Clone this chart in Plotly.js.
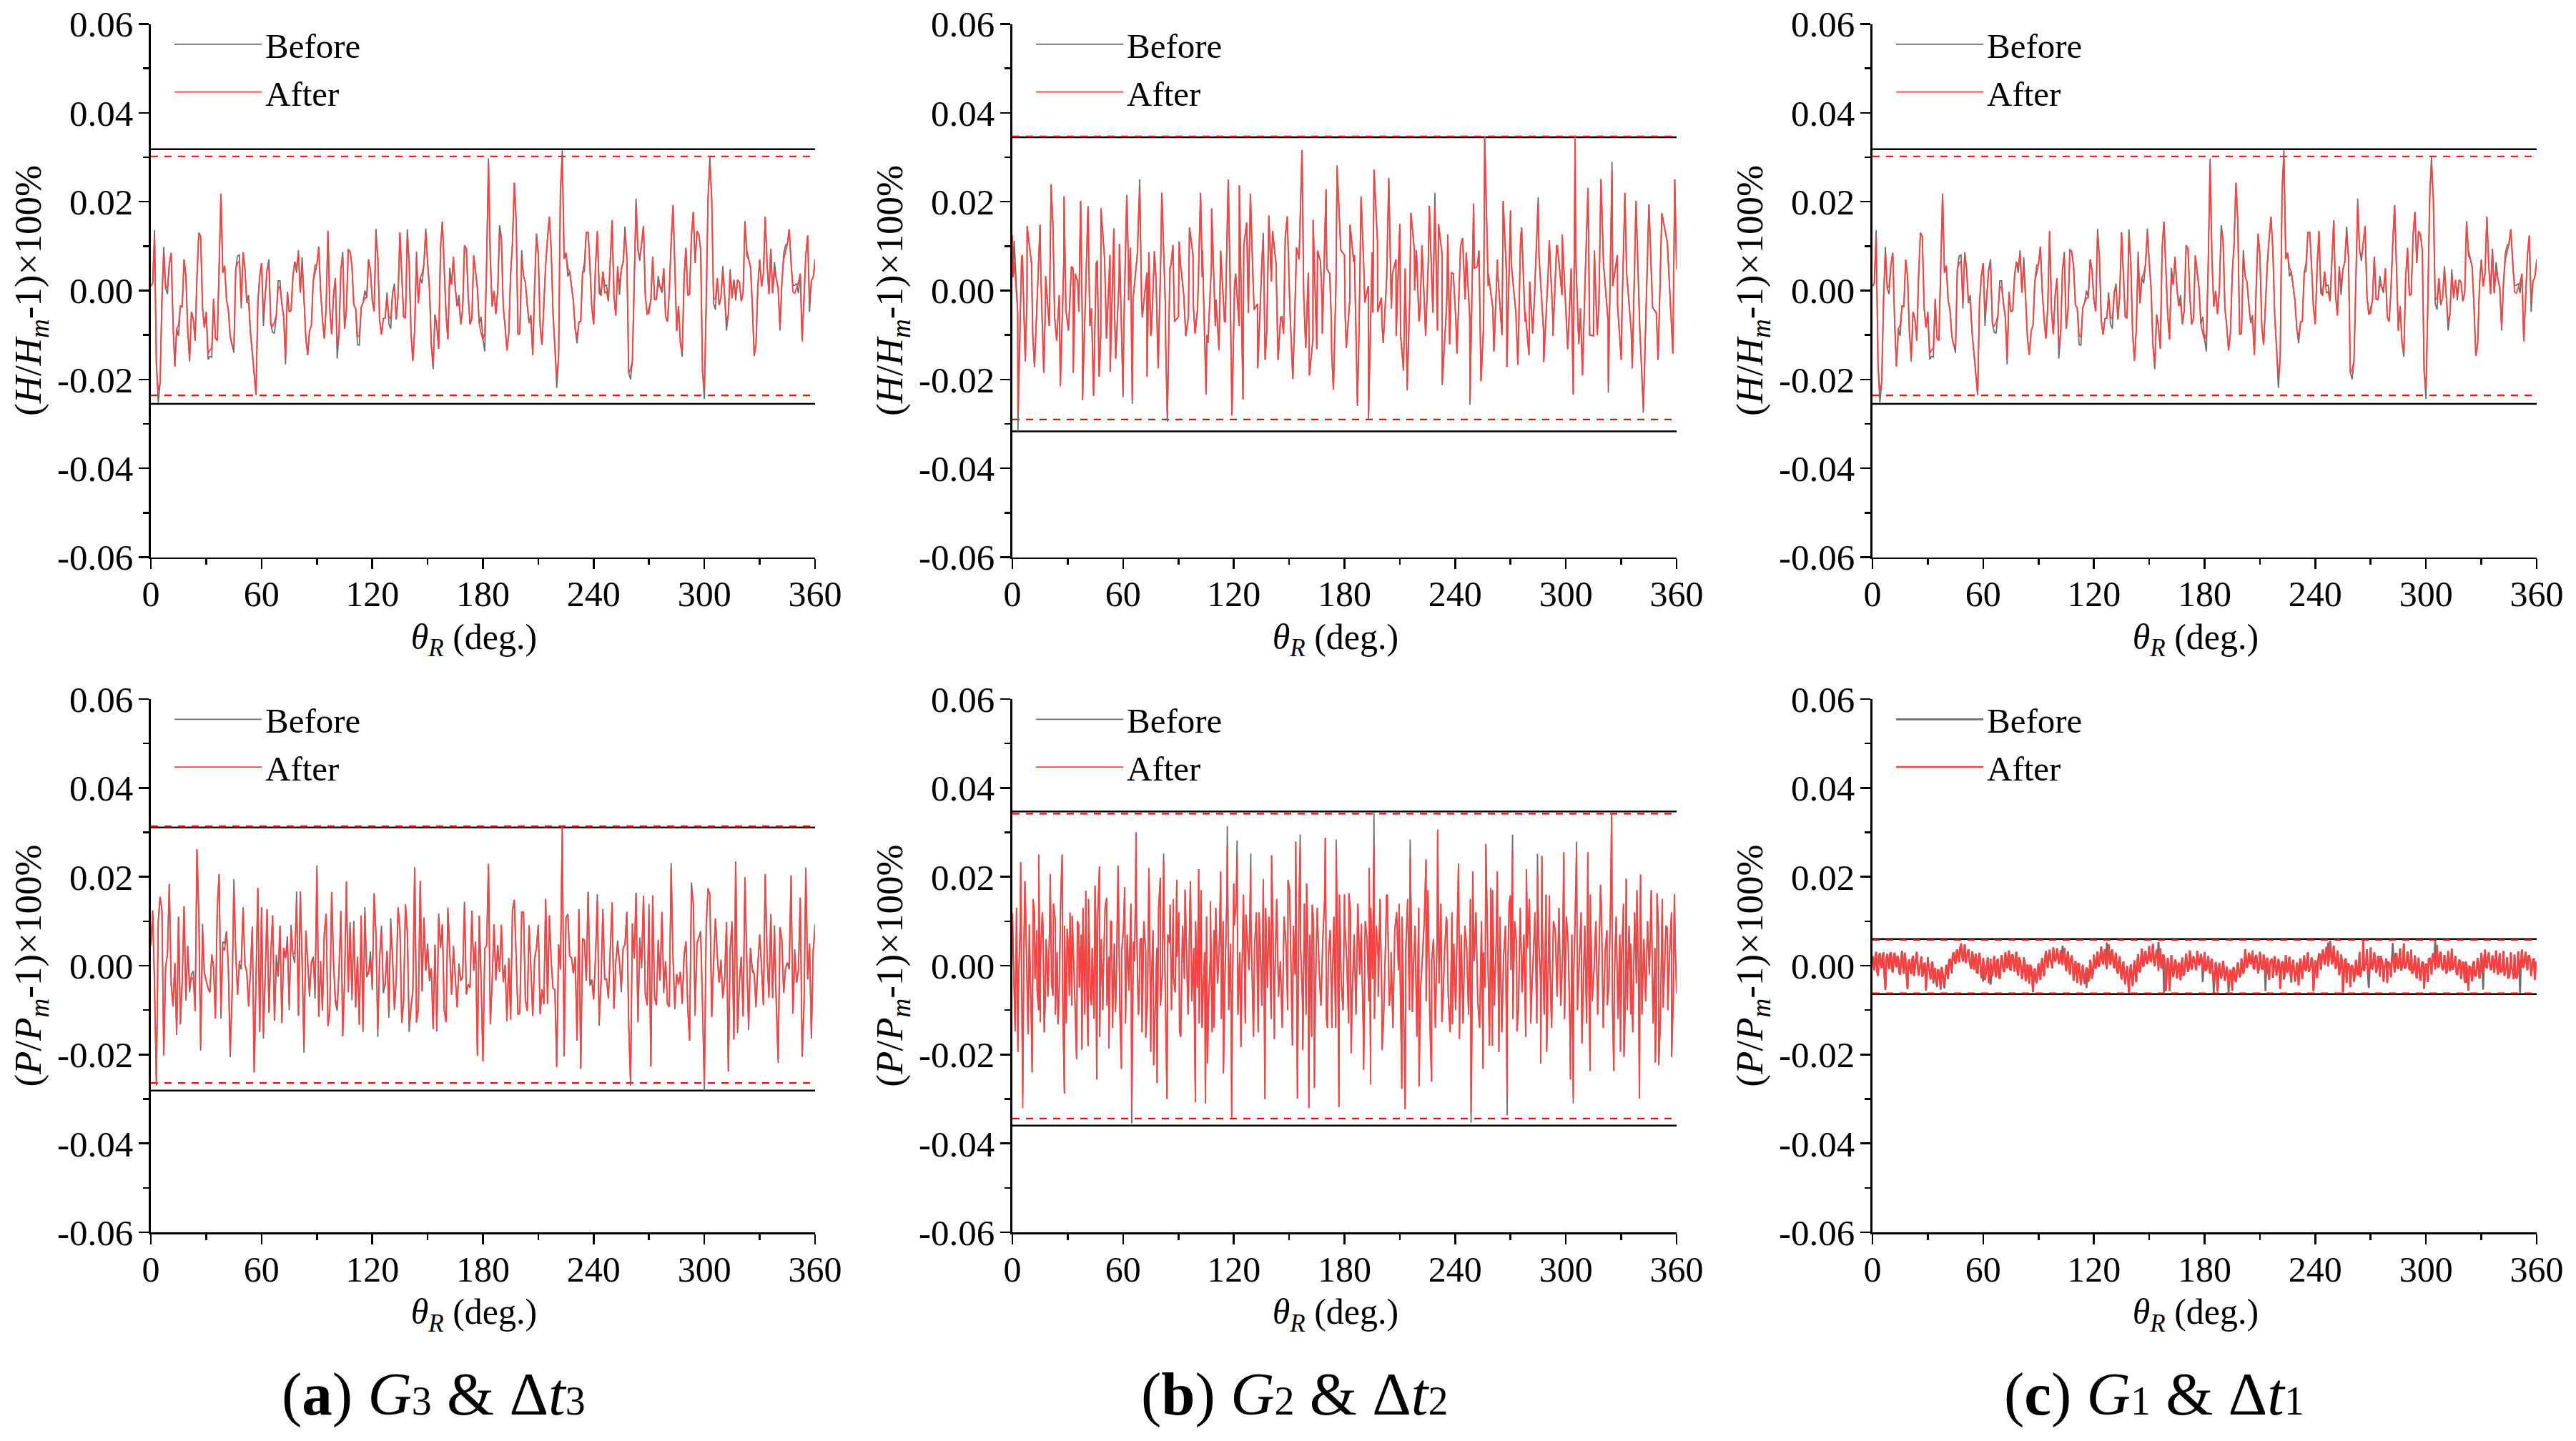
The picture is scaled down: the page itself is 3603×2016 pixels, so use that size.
<!DOCTYPE html>
<html><head><meta charset="utf-8">
<script src="https://cdn.plot.ly/plotly-3.0.1.min.js"></script>
<style>html,body{margin:0;padding:0;background:#fff}</style></head>
<body><div id="chart" style="width:3603px;height:2016px"></div>
<script>
// All series are estimated by eye from the picture, in units of 0.001 on the y axis.
const UNIT = 0.001;
const seriesNames = ['Before', 'After'];
const xTicks = [0, 60, 120, 180, 240, 300, 360];
const xMinor = [30, 90, 150, 210, 270, 330];
const yTicks = [0.06, 0.04, 0.02, 0, -0.02, -0.04, -0.06];
const yTickText = ['0.06', '0.04', '0.02', '0.00', '-0.02', '-0.04', '-0.06'];
const yMinor = [0.05, 0.03, 0.01, -0.01, -0.03, -0.05];

// H, gear pair 3 (also drawn in the top right panel): one value per degree, After
const afterH3 = [
1,1.6,11.8,-16.6,-22.5,-20.9,-2.1,8.3,.5,1,
5.9,8.5,-7,-17.1,-8.6,-7.8,-3.4,-3.7,7,3.2,
-9.1,-15,-4.8,-6.4,-11.3,3.2,13,12.2,-3.8,-8.3,
-4.8,-14.2,-13.4,-12.9,-1.9,-10.7,-11.3,6.4,21.8,4,
5.6,-2.1,-4.3,-10.2,-12.3,-12.6,4.8,6.2,6.6,-2.4,
8.6,4.8,-2.7,-2.8,-9.6,-13.9,-18.8,-23.5,-2.7,3.2,
6.2,-5.4,-1.1,4.8,5.4,-7.5,-8,-7,-5.6,1.1,
.5,-3.2,-5.9,-15,-.3,-4.8,-4.5,3.2,6.5,5.4,
8.3,-.5,5.6,-2.1,-10.7,-14.5,-9.1,-7.8,2.1,5.7,
5.9,9.9,0,-6.4,-10.8,-3.8,13.4,-4.3,-9.8,-1.1,
2.8,-12.3,-9.6,4.8,7.5,-8.6,-4.3,9.3,8.7,5.4,
-3.2,-4,-10.2,-10.4,-3.8,-2.7,-1.7,-1.6,7,4.6,
-2.1,-4.7,12.3,7.5,-6.7,-9.9,-6.3,-6.2,-1.6,-5.9,
-6.4,-.5,.8,-6.5,-1.1,13.1,3.2,-5.9,-6.2,12.1,
6.4,-9.6,-15.8,-8.6,7.5,-2.9,2.9,3.8,5.9,13.1,
6.4,.5,-12.3,-16.5,-5.4,-8,-13.1,9.6,15.5,3.8,
-5.4,-11,3.2,1.3,7.6,.5,-3.5,-2.7,-7.6,-4.3,
10.2,9.4,-1.1,-7.6,-6.2,7.9,4.3,.5,-7.5,-9.6,
-11,-9.6,6.4,28.5,7,-3.6,-.1,-5.3,0,13.1,
11.8,-3.8,-8,-13.5,-9.6,3.8,10.7,24.3,15.5,-9.9,
-9.6,7.5,3.2,1.9,-3.2,-7.2,-7,-14.5,1.1,12.8,
8,-8,-12.2,-2.1,5.9,11.8,16.6,9.1,-5.4,-12.9,
-19.6,-15,22.5,30,7.1,8.5,5.1,4.3,.5,-2.4,
-8.7,-10.4,-7.1,-6.9,4,4.3,13.1,13.1,5.4,-3.8,
-7.6,5.4,13.4,1.1,-1.1,4.3,-.5,-.3,-2.4,6.4,
15.8,-1.1,-5.6,4.8,1.1,4.8,6.4,12.9,7.5,-18.5,
-17.7,-15.8,3.8,19.3,9.1,7.5,10.7,14.5,-1.1,-5.4,
-5.1,-2.1,7.6,-2,-2,1.6,.8,.5,5,-5.9,
-7,0,10.7,19.2,5.4,-9.1,-3.5,-11.8,-13.7,2.7,
9.6,-1.1,-.8,12.3,17.7,6.2,13.4,12.6,9.1,-18.2,
-22,-4.3,20.9,28.5,20.4,-1.9,-1.9,2.8,-3.3,-1.6,
4.6,-1.1,-7,-5.4,3.9,-1.7,2.4,-1.1,2.4,1.9,
-2.4,-.5,15.6,9.1,7,5.4,-3.2,-14.7,-12,1.1,
7,.9,3.8,16.6,5.9,-.8,9.4,-.6,4.6,2.7,
.5,-8,1.6,7,8.8,10.5,13.8,5.9,-.3,-.6,
.5,1.9,3.8,-11.4,-1.6,8,12.4,-2.4,2.1,3,6.4];
const beforeH3Deg = [2,4,7,9,15,21,31,32,33,45,47,48,49,53,61,64,66,67,69,70,73,79,80,82,89,101,104,112,113,116,122,128,129,130,132,139,144,147,149,153,162,167,179,181,183,189,201,206,220,223,226,231,235,243,246,247,253,254,257,260,263,265,270,275,277,288,300,303,305,306,310,312,314,317,323,338,341,343,344,348,349,350,351,357,360];
const beforeH3Val = [13.6,-25.2,9.8,-.8,-10.2,-16,-15.5,-14.8,-15,-14,7.8,8,-4,-1,-8,7,-9.4,-9.6,2.2,2.2,-16.6,4,9.1,7.5,3.9,-15.3,8.7,-12.2,-12.3,0,13.9,-.4,-7.5,-8.6,1.6,13.8,8.8,1.6,14,-17.7,5.1,-1,-5.9,-13.7,29.7,14.7,9.1,-5.5,-21.9,31.6,3.2,-11.9,6.2,-.6,1.1,1.2,5.5,-1,14.4,-20,20.7,6.7,-4,3.3,-.5,-14.9,-24.4,30.1,-2.9,-4.3,5.5,-9,4.8,-2.2,7.8,6.4,-9,8.3,10.2,1.1,1.2,1.6,-.6,-4.8,7];

// H, gear pair 2: turning points
const thetaH2 = [0,1,3,5,7,8,11,12,15,17,18,20,21,22,24,26,28,29,32,33,34,36,37,38,41,42,44,46,47,48,50,51,53,55,56,58,60,62,63,64,65,68,69,70,73,74,75,77,79,81,83,84,86,87,90,91,94,96,98,99,102,103,105,106,108,110,112,113,115,117,119,121,123,125,127,129,131,133,136,137,139,141,144,146,147,149,152,154,157,159,161,163,165,167,168,170,172,173,174,176,178,180,181,183,185,187,189,191,193,195,196,198,200,201,204,206,208,210,212,214,216,218,219,221,222,224,226,229,231,233,236,237,239,241,244,246,248,250,252,254,256,258,261,263,266,268,270,274,276,278,280,282,285,288,291,293,295,298,301,303,304,305,307,309,312,315,317,319,323,325,328,330,332,336,338,340,342,345,347,349,350,352,355,358,359,360];
const afterH2 = [12.4,6.5,-27.4,7.5,-15.9,14.5,-9.7,-17.2,14.8,-18.5,3.2,-8,23.9,14.5,-11.3,-21.5,21.2,-4.3,5.4,-18.5,3.8,-4.8,20.2,-24.7,18.8,-8,-23.7,6.7,-19.4,18.5,7,-10.8,-18.3,14,-15.3,10.5,-22.8,21.5,-2.2,9.7,-24.7,11.8,22.3,-1.6,-19.4,8.6,-10.2,8.9,-17.5,22,-10.2,-28,5.9,10.2,-5.9,6.5,-10.2,14.2,-2.7,-9.7,22,9.1,-23.4,-11.8,18.5,-8,-13.4,8,-7,25,-28.2,3.8,23.7,-24.5,15.3,21.8,-4.3,-17.5,11.6,-15.6,16.9,13.4,-15.6,-5.9,-9.7,16.7,-19.9,9.7,31.6,-12.9,-19.1,15.9,-13.2,6.5,-9.7,22.8,3.8,-13.2,-22.3,27.7,9.1,8,-12.9,14.8,6.5,-25.3,21.2,-2.7,-28.2,8.6,27.2,-4.8,-1.6,-11.8,25.3,3.8,-10.2,15,-18,-21.4,17.5,0,9.1,-4.3,10.2,-10.2,19.1,19,15,-20.7,12.6,-12.1,3.8,-14.2,11.8,8.6,-24.7,19.6,5.4,-20.4,34.7,3.8,-13.7,4.3,20.2,-17.2,18,-16.7,14.2,-4.8,-14.5,-9.7,19.9,-16.1,11.3,-10.2,10.2,12.6,-13.2,.5,-23.4,34.8,-12,-19.1,23.1,-10.2,-10,25.1,-21,26.9,-3.2,-15.6,22,-17.5,20.2,-8,-26.3,19.4,-3.8,-5,-15.6,17.4,10.8,-14.2,25,4.8];
// fine wiggles between the turning points, one every 2.5 degrees from 0.4
const fineH2 = [
3,-5,8,-2,6,-8,4,-3,9,-6,
-1,7,-9,5,2,-7,10,-4,6,-10,
1,8,-5,3,-8,6,-2,9,-6,4,
-9,2,7,-3,5,-7,11,-1,-6,8,
-4,3,-10,6,-2,9,-7,5,1,-8,
10,-5,3,-3,8,-9,2,6,-6,12,
-4,-8,7,-1,4,-11,9,-3,5,-7,
2,10,-6,-2,8,-9,6,1,-5,11,
-8,3,-4,7,-10,5,-1,9,-7,2,
6,-5,-9,8,-3,4,-7,10,-2,-6,
5,9,-8,1,-4,7,-10,3,6,-5,
11,-7,2,-2,8,-9,4,-6,10,-1,
-8,5,7,-4,2,-10,9,-3,6,-7,
1,8,-5,4,-9];
const beforeH2Deg = [1,3,41,60,65,69,84,119,136,176,187,193,214,229,233,248,285,323,325,342];
const beforeH2Val = [11.2,-31.7,19,-24,-25.5,25,-29.5,-28,13,28.2,-26,-29,-22.5,22,-21.3,-25.7,21,-23,29,-27.5];

// P, gear pair 3: one value per degree, After
const afterP3 = [
4.5,12,-4.6,-26.3,9.9,15.5,12.5,-20.2,-.3,2.6,
18.4,-4.1,-9.2,.6,-15.6,11,-13.2,-3.5,13.4,-7.8,
4.4,-4.6,-3,-2.7,-10.2,26.2,11.5,-18,7.7,-1.7,
-3.3,-5.1,-6,2.5,-.3,-11.9,13.1,20.6,-10,4.2,
3.4,7.7,-.3,-19.6,-6.8,17.4,2.9,-6.5,1,1,
13.1,.2,-1.4,-9.2,-.9,8.8,-24,-4.6,17.5,-14.9,
13.2,-15.3,-.9,12.7,-10.6,2.4,11.3,-12.4,.2,-1.7,
9,-12.9,4,1.7,5.1,-8.9,8.1,2.9,2.6,14.4,
-11.3,16.7,.8,-17.6,7.9,.2,-6,.8,1.3,-5.1,
21.6,-11.5,1,-10.1,7.2,11.7,-13.6,-10.2,16.6,.8,
-7.3,-9.2,-.9,12.3,-15.9,-3.5,18.9,-6,8.5,-6.5,
8.9,-9.4,2,-13.3,11.3,-14,11.8,-1.4,-1.9,1.3,
-4.6,16.3,7.2,-14.3,1.8,7.7,-4.6,-4.3,3.3,-10.1,
9.1,1.8,-9.3,-3,13.1,8.3,-12.9,-7.8,13.8,7.7,
-13.5,-9.4,-5.7,22.1,-12.8,-9.7,19.1,-5.8,10.8,-1.1,
4.1,-2.7,-.6,-14.3,4.7,-14.8,10.9,4,9.3,-10,
-12.7,12.5,2.4,-6.5,4,-2.5,-9.4,-.3,-3.4,-2.4,
13.9,-6.5,-4.2,-5,12.4,-1.1,5.4,-20.3,11.2,-3.5,
-21.5,3.9,4.5,22.9,-13.2,-3.5,9.3,-3.3,4.6,-1.4,
9.2,-3.7,.2,-12.5,1.7,-12.1,12.5,14.8,2.9,-11,
-10.7,12.1,12.1,-7.8,-10.2,9.1,-.9,-11.3,1.6,4,
9.2,-10.9,-5.3,-8.7,15,-8.6,11.3,.8,-5.1,-5.4,
-22.8,4.8,-.9,31.3,-20.4,10.7,11.6,2.1,1.8,-1.7,
2,-16.9,12.7,-23.2,6,5.8,-3.4,16.6,-3.3,-3.2,
-7.6,1.8,14.7,-12.4,-3.5,12.1,-3.1,-3,-7.4,4,
14.3,-9.7,.8,4.5,.8,-4.5,4,4.8,12.1,-13.2,
-26.1,9.5,1.6,16.4,-12.7,5,.8,15.7,-6.5,-8.9,
12.3,-22.7,15.8,-7,-8.9,5.8,-3.4,12.1,-4.9,1,
-8.6,-9.3,21.9,1.8,-9.2,-1.9,-4.3,-1.4,-8.6,2.1,
5.5,-9.4,-16.9,17.1,14.2,-10,5,6.4,6.9,-8.9,
-26.3,8.8,17.4,16,-11.5,.8,10.6,2.4,-3.8,1,
-7.3,-3,9.8,-23.8,4,9.1,-16.6,23.5,-14.3,-3.5,
2,-11.4,19.9,.8,-13.7,4,-1.4,-1.8,-8.9,.2,
7,-.3,-8.9,20.6,1.8,-6.8,11.6,-7.3,7.7,-8.9,
-21.2,8.7,5.8,-6.1,-.6,.6,.3,20.3,-10.8,2.5,
-3.8,-.9,15.3,-20.5,-8.9,21.1,-3.1,5,-15.6,3.4,8.3];
const beforeP3Deg = [1,3,21,22,23,27,28,38,39,40,43,45,48,49,61,68,69,74,75,76,77,78,79,83,86,88,89,90,100,101,108,109,110,115,116,117,118,119,120,123,125,126,129,130,132,140,150,151,156,161,164,167,170,238,242,243,245,253,255,260,265,266,270,278,282,284,293,295,298,300,309,315,318,324,326,328,335,338,340,346,349,355,358,360];
const beforeP3Val = [12.5,-27,-6,-1.9,-1.2,-19.1,9.4,-11.9,5.4,5,-20.6,19.5,.6,-.9,-16.4,2.5,-2.5,6.6,-10,9.2,2.4,.6,16.7,-19.6,-7,2,-7.4,22.6,-8.4,-10.1,9.8,-7.8,10.1,-14.9,13.2,-2.6,-1.6,3.2,-5.5,-16,9,-6.2,-11.7,10.7,-10,-14.9,5,-3.5,11.8,13.1,4.5,.5,14.4,-4.5,16.1,-13.5,12.8,5.7,-6,-27,6.4,-.6,13.9,-6.2,23.1,-9.8,18.7,-11.3,7.8,-28.1,1.4,10,-15.2,-14.5,-.6,-9.4,-7.3,9.1,-21.9,-.9,3.7,22.1,-16.4,9.3];

// P, gear pair 2: turning points
const thetaP2 = [0,1.5,3,4.5,5.6,6.8,8.5,9.2,10.7,11.9,13.4,14.3,15.1,16.6,17.8,18.7,20.5,22,23.2,24.7,27,28.2,29.7,30.9,32.4,34.8,36,37.7,39.8,41,42.8,44.8,45.7,47.2,49,51.1,52.3,53.8,55.8,57.3,59.1,60.9,63.2,64.7,65.6,67.1,68.6,70,72.3,74,75,76.6,78.4,80.2,82,83.8,85.5,87.3,89.1,90.6,93.6,95,96.5,99.2,101,102.8,104.6,105.8,107.3,109.3,112.9,114.4,116.5,118.9,120,121.8,123.9,126.6,129.2,130.7,133.7,136,136.9,139,140.5,142,145,149.4,151.8,153.6,154.5,156,157.4,159.5,160.7,162.5,163.7,169.6,170.8,173.2,175.5,177,180,182.4,183.6,189.2,190.4,193.4,194.2,196,198.3,200.4,202.8,205.2,209.6,211.1,212.9,215.6,216.8,220.4,224.2,227.2,230.5,232.8,235.5,238.5,241.8,242.3,244.4,248.6,249.5,252.1,255.1,256.6,258.6,259.3,260.2,262.8,263.7,268.2,269.9,271.1,273.5,278.6,281,284.6,286.4,287,289.6,291.1,298.9,302.5,304,305.8,308.7,311.9,313.1,318.8,322.4,324.8,326,327.2,329.6,331.5,332.7,335.2,338.5,339.9,340.5,348.5,349.4,350.3,352.7,355,357.3,358.8,360];
const afterP2 = [11.8,-14.8,-19.4,23.3,-32,19,-15.4,9.3,-24,12,-5.6,25,-12.7,8.3,-7.8,2.3,20.6,-6.8,10.5,-13.2,25,-28.8,8.3,-6.8,11.2,-21,9,-18.9,16.9,-18.1,-8.9,18,-25.6,22.3,-10,15.3,-18.6,9.9,-10.5,22.5,-23.2,17.7,-5.6,-33,5.4,30,-9.5,6.2,-16.2,22,-19.4,-22.4,-26.4,19.8,23.6,-30,13.7,-2.5,19.3,-14.8,17.1,-11,19,-30.7,21.7,-14,-31,-22,14.5,-14,21.2,-24.2,27.1,-34.2,18.5,25,-18.3,11.5,22,-16,12,19.5,-30,11,24.8,-16.5,0,19.3,-18,27.9,-29.9,26.6,-19,18.5,-32,13.7,-27.5,28.8,-14,-14,26.5,-31.8,16,16.3,-19.7,9.4,-23.4,22,-26.7,27.1,-7,-19,15.8,-4,13.9,-27.7,-32.3,24.4,-10.5,-27.2,23.9,-26.1,30.6,-12.7,10,-13.2,23,-16.5,-11,-33,21.2,-8,-23.2,27.4,-18,17.5,-18,21.2,-19.4,-29,15.8,26,-14.8,21.7,-13,20.9,-22,24.7,-19.4,15.8,25.5,-25.6,-29.6,26.3,-17.5,25.5,-23.7,18.2,-8.9,34.6,-23.7,11,-19.4,-20.5,19.6,-11,17,-29.9,20.5,-21.8,16.3,-22.4,-9.5,8.5,-20.5,16.1,-6.2];
// fine wiggles between the turning points, one per degree from 0.25
const fineP2 = [
7,-9,13,-5,9,-14,4,11,-8,6,
-12,15,-3,8,-10,2,12,-15,6,-7,
10,-4,14,-11,3,-8,16,-6,9,-13,
5,12,-9,1,-14,10,-5,7,13,-11,
-2,15,-7,4,-12,8,11,-16,6,-3,
13,-9,2,10,-14,5,-6,17,-10,3,
9,-13,7,-4,14,-8,1,12,-11,6,
-15,10,3,-7,16,-5,8,-12,4,13,
-9,-2,11,-14,7,5,-10,15,-6,2,
12,-16,9,-3,6,-11,14,-8,4,10,
-5,-13,17,-7,3,11,-9,1,-15,8,
13,-4,6,-12,10,-2,15,-10,5,-7,
9,14,-11,3,-6,16,-13,7,-1,11,
-8,4,12,-15,6,-9,2,13,-5,10,
-12,8,-3,15,-7,1,-14,11,5,-10,
17,-6,9,-2,-13,12,4,-8,14,-11,
3,7,-16,10,-5,13,-1,-9,6,15,
-12,2,8,-7,11,-14,5,16,-4,-10,
9,1,-13,12,-6,7,-11,14,-2,4,
-15,10,6,-8,13,-3,-12,9,2,15,
-7,-11,5,16,-9,3,-14,8,12,-1,
-6,11,-13,4,15,-10,7,-2,9,-16,
13,-5,2,10,-8,17,-12,1,6,-14,
8,-4,14,-9,3,11,-7,-15,12,5,
-10,16,-2,7,-13,9,4,-11,15,-6,
1,12,-8,-14,10,3,-5,13,-12,8,
17,-9,6,-3,11,-15,2,9,-7,14,
-1,-12,10,5,-10,13,-6,7,-16,4,
15,-8,1,12,-13,6,-3,9,-11,16,
-5,2,-14,10,8,-7,13,-9,3,-12,
11,5,-15,7,-2,14,-10,1,12,-6,
9,-13,4,16,-8,-1,10,-11,6,13,
-14,3,8,-5,15,-9,-3,11,-12,7,
2,14,-7,-10,9,5,-15,12,-4,1,
13,-11,6,-8,10,-2,17,-13,4,-6,
8,-12,15,-3,9,-10,3,12,-7,5];
const beforeP2Deg = [5.6,64.7,82,116.5,121.8,129.2,156,175.5,196,215.6,248.6,268.2,271.1,284.6,304,305.8];
const beforeP2Val = [-29,-35.5,25.2,31.4,28.2,25.2,29.5,28.4,34.6,28.4,-35.3,-33.7,29.5,25.2,-31,27.9];

// P, gear pair 1: values at each whole degree, After
const afterP1 = [
2.2,-1,3.1,-2.3,2.8,-.6,3,-5.1,2.6,-.8,
3,-1.5,2.9,-.4,1.7,-2,3.3,-1.8,1.2,-5,
1.4,-1.9,2.2,-.7,3.1,-2.2,1,-2.5,.6,-5.3,
1.9,-1.2,.3,-3.4,-.5,-4.2,-1.1,-4.8,-1.5,-4.4,
.2,-3,1.5,-1,3,.4,3.6,.8,5,1,
4.8,1.9,3.7,.2,3.2,-.9,2.7,-1.6,2.9,-2.8,
1.8,-3.2,.7,-3.9,1.6,-2.1,2.2,-2.6,1.5,-3,
2.4,-1.2,3,-.6,3.4,-.9,2.5,-1.3,3.1,-2.2,
1.2,-3,1.9,-3.5,.3,-4.1,-.2,-5.7,-.6,-4,
.5,-3.2,1.7,-2.4,3.3,-.5,3.6,.2,4.1,.9,
3.9,.4,3.5,.1,4,-1.2,3.2,-2,2.3,-3.4,
1.1,-3.9,.4,-4.4,.2,-4.1,-.4,-3.6,1.3,-2.9,
2.5,-.7,3.2,.1,4.3,.3,3.7,-.8,4.8,.2,
3.6,-.6,2.9,-1.8,2.1,-3.1,.9,-4.2,-.1,-6,
.3,-4.6,1.2,-3.7,2.6,-1.5,3.8,-.2,3.3,.4,
4.4,.8,4.9,-.1,3.6,-1.2,3.9,-.5,2.2,-5.7,
1.7,-5.7,2.4,-2.6,1.4,-2.9,.7,-3.3,1.8,-2,
2.7,-1.4,3.4,-.9,2.1,-.3,3.3,.1,2.6,-1.3,
3,-.9,2.2,-1.8,1.5,-3.8,.8,-5.8,.6,-2.9,
1.1,-3.4,-.2,-4.6,-.9,-5.6,-.4,-3.5,.7,-2.6,
1.6,-1.8,3.7,-.5,2.9,.3,3.4,-.8,2.4,-1.7,
3.1,-.6,2.5,-1.9,1.8,-3.2,1.3,-2.7,2.1,-2.2,
1.5,-5.2,.9,-3.1,2.4,-1.6,2,-2.8,1.3,-3.6,
.7,-4.4,1.6,-3,2.3,-1.1,3,-.7,1.9,-5.7,
1.2,-2.8,2.6,-.9,3.6,.2,4.2,-.2,5.6,.3,
4.5,-.7,3.4,-2.1,2.5,-6,1.2,-3.9,.5,-4.8,
.1,-3.6,1.3,-2.2,3.1,-.6,5.7,.4,3.7,-.4,
4.1,-.9,3,-1.6,2.2,-2.5,1.5,-3.6,.3,-3.9,
.6,-2.6,1.9,-1.5,2.7,-.7,3.9,-.1,5,-.4,
3.2,-.8,3.6,-1.4,2.3,-2.9,1.8,-3.4,.9,-5.2,
.4,-3.7,1.6,-2,2.8,-.9,4.6,-.2,3.1,-1,
2.4,-1.8,3.3,-1.2,3.8,-.3,2.2,-2.1,1.4,-3,
.9,-3.8,.2,-5.6,-.3,-3.5,1,-2.4,1.7,-2.9,
2.9,-1.5,3.6,-.4,3,-.8,2.3,-1.6,3.4,-2,
2.8,-1.3,3.3,-.7,1.9,-2.6,3,-1.1,2.5,-2.9,
3.2,-1.4,3.6,-.2,3.1,-1,2.2,-2.3,1.4,-3.2];
// P, gear pair 1: values at each half degree, After
const afterP1Half = [
.4,1.8,-1.1,2.4,.3,1.9,-2.2,1.6,.9,2.6,
-.8,1.9,.6,2.2,-1.6,1.3,.1,2.9,-2.4,.7,
-.9,1.4,-2.3,1.8,.2,-1.1,2.1,-1.7,.4,-2.6,
-.7,-3.1,.9,-2.2,-3.6,-1,-3.3,-.3,-3.7,-2,
-1.4,1.2,-.2,2.4,1.1,3.2,1.5,3.9,2.4,3.3,
.6,2.8,1.2,-.7,2.1,1.3,-1.5,1.8,.2,-1.3,
.3,-1.8,1.9,-.9,-2.3,.8,-1.2,1.1,-2,.4,
.9,-1.4,1.7,1.3,-.8,2.3,.4,1.6,-1.1,1.9,
-.5,-1.6,.7,-2.5,-1.1,.2,-2.8,-1.4,-3.3,-1.2,
-1.9,.4,-1,1.7,.9,2.2,1.2,-.6,2.8,1.5,
2.5,.8,1.6,2.9,.5,1.9,-.4,1.4,.6,-1.2,
-.9,.4,-2.2,-1.3,-3,-1.6,-.8,-2.7,-.3,-1.7,
.3,1.4,-.2,2.3,1.2,2.8,.6,2.1,1.5,3.1,
.9,1.7,-1,.5,-1.5,-.4,-2.6,-1.1,-3,-1.9,
-2.4,-.9,-1.7,.6,-1.2,1.3,.1,2.4,.8,2,
1.5,2.7,.9,2.2,1.6,3,-.4,2.5,.6,-1.3,
.4,-2,-.3,-1.2,.7,-1.6,-.8,.5,-2.1,.2,
.9,-.6,1.8,.4,1.2,-1,2,.7,1.4,.3,
-1,.6,-.7,.9,-1.8,-2.5,-.4,-2.9,-1.1,-1.6,
-.5,-2.3,-1.4,-3.1,-2,-.6,-3.4,-1.5,-.9,-2.2,
.2,-.8,1.6,.5,2.1,1.1,-.5,1.9,.7,-.4,
1,-.9,1.3,.2,-1.5,.8,1.6,-.2,.6,-1.1,
.4,-1.3,.7,-2,-.6,.5,-1.7,.3,-.9,-2.2,
-.4,.6,-1.5,.3,-.8,1,-1.4,-.1,.9,-1.9,
.5,1.2,2.5,1.4,2.8,1.1,3.2,1.7,3.4,.9,
1.7,.2,1.3,-.7,.9,-1.8,1.6,.3,-.9,-.2,
-.8,-2.1,-.4,-1.5,-2.6,-.7,-1.2,.2,-1.9,-1,
-.2,1.1,.6,-.7,1.4,2.2,.4,-.3,1.6,.9,
.1,1.8,.9,2.7,-.3,1.4,-1.1,.5,-.6,.8,
.4,-.9,-1.8,-.2,-1.4,.3,-2,-.7,.6,-1.3,
.2,1.5,.6,2.3,.9,1.7,-.4,2.6,.3,-.5,
.8,-1.2,1.4,.1,-.9,.7,-1.6,-.3,1,-1.1,
-.6,.9,-1.7,-.2,-1.3,.4,-2.2,-.9,.2,-1.5,
.6,1.2,-.3,1.6,.5,-.8,1.3,.9,-.2,.7,
-1.5,-.4,-2.3,-1,-2.7,-1.4,-.6,-3,-1.8,-2.2,
.1,1.2,-.4,1.7,.6,2.1,1.1,-.5,1.5,.9];
const beforeP1Deg = [7,19,29,33,35,37,39,43,60,64,87,103,113,116,127,139,155,158,179,185,193,213,227,247,255,269,282,305,322,331,351];
const beforeP1Val = [-5.5,-5.3,-5.6,-4,-4.8,-5.4,-5.1,-1.8,-3.6,-4.3,-6,4.5,-4.2,-5,5.2,-6.3,5.3,-6,-3.7,-6.1,-6,-5.7,-3.8,5.2,-6.2,-5,5.1,5.7,-3.9,-5.4,-6.2];

// Limit lines [upper, lower]
const blackH3 = [31.8, -25.5], redH3 = [30.2, -23.6];
const blackH2 = [34.5, -31.7], redH2 = [34.7, -29];
const blackP3 = [31.1, -28.1], redP3 = [31.4, -26.4];
const blackP2 = [34.7, -36],   redP2 = [34.2, -34.4];
const blackP1 = [6, -6.4],     redP1 = [5.8, -6.2];
const limitX = [0, 360];

const titleH = '(<i>H</i>/<i>H<sub>m</sub></i>-1)×100%';
const titleP = '(<i>P</i>/<i>P<sub>m</sub></i>-1)×100%';
const titleX = '<i>θ<sub>R</sub></i> (deg.)&nbsp;&nbsp;';
const captionSmall = s => `<span style="font-size:56px">${s}</span>`;
const captions = [
  `(<b>a</b>) <i>G</i>${captionSmall('3')} &amp; Δ<i>t</i>${captionSmall('3')}`,
  `(<b>b</b>) <i>G</i>${captionSmall('2')} &amp; Δ<i>t</i>${captionSmall('2')}`,
  `(<b>c</b>) <i>G</i>${captionSmall('1')} &amp; Δ<i>t</i>${captionSmall('1')}`];

const W = 3603, H = 2016, FONT = 'Liberation Serif';
const degrees = n => Array.from({length: n}, (_, i) => i);
const thetaH3 = degrees(afterH3.length), thetaP3 = degrees(afterP3.length);

function merge(t1, v1, t2, v2) {
  const pts = t1.map((t, i) => [t, v1[i]]).concat(t2.map((t, i) => [t, v2[i]]));
  pts.sort((a, b) => a[0] - b[0]);
  return {t: pts.map(p => p[0]), v: pts.map(p => p[1])};
}
const mergedH2 = merge(thetaH2, afterH2, fineH2.map((_, i) => i * 2.5 + 0.4), fineH2);
const mergedP2 = merge(thetaP2, afterP2, fineP2.map((_, i) => i + 0.25), fineP2);
const mergedP1 = merge(degrees(afterP1.length), afterP1, afterP1Half.map((_, i) => i + 0.5), afterP1Half);

function before(theta, after, deg, val) {
  const out = after.slice();
  deg.forEach((d, i) => { const k = theta.indexOf(d); if (k >= 0) out[k] = val[i]; });
  return out;
}
const panels = [
  {t: thetaH3, a: afterH3, b: before(thetaH3, afterH3, beforeH3Deg, beforeH3Val), k: blackH3, r: redH3, y: titleH, col: 0, row: 0, w: 1.8},
  {t: mergedH2.t, a: mergedH2.v, b: before(mergedH2.t, mergedH2.v, beforeH2Deg, beforeH2Val), k: blackH2, r: redH2, y: titleH, col: 1, row: 0, w: 1.8},
  {t: thetaH3, a: afterH3, b: before(thetaH3, afterH3, beforeH3Deg, beforeH3Val), k: blackH3, r: redH3, y: titleH, col: 2, row: 0, w: 1.8},
  {t: thetaP3, a: afterP3, b: before(thetaP3, afterP3, beforeP3Deg, beforeP3Val), k: blackP3, r: redP3, y: titleP, col: 0, row: 1, w: 1.8},
  {t: mergedP2.t, a: mergedP2.v, b: before(mergedP2.t, mergedP2.v, beforeP2Deg, beforeP2Val), k: blackP2, r: redP2, y: titleP, col: 1, row: 1, w: 1.8},
  {t: mergedP1.t, a: mergedP1.v, b: before(mergedP1.t, mergedP1.v, beforeP1Deg, beforeP1Val), k: blackP1, r: redP1, y: titleP, col: 2, row: 1, w: 2.6}];

const colLeft = [211, 1416, 2619], colWidth = 929;
const rowTop = [33.5, 978], rowHeight = 746;

const traces = [], layout = {
  width: W, height: H, margin: {l: 0, r: 0, t: 0, b: 0, pad: 0},
  paper_bgcolor: '#fff', plot_bgcolor: '#fff', font: {family: FONT, size: 50, color: '#000'},
  annotations: [], showlegend: true};

const toUnit = arr => arr.map(v => v * UNIT);
panels.forEach((p, i) => {
  const n = i + 1, sfx = n === 1 ? '' : String(n), xa = 'x' + sfx, ya = 'y' + sfx, lg = 'legend' + sfx;
  const base = {xaxis: xa, yaxis: ya, mode: 'lines', hoverinfo: 'skip'};
  p.k.forEach(v => traces.push({...base, x: limitX, y: toUnit([v, v]), showlegend: false, line: {color: '#000', width: 2.4}}));
  p.r.forEach(v => traces.push({...base, x: limitX, y: toUnit([v, v]), showlegend: false, line: {color: '#ff0000', width: 2.2, dash: '10px,9px'}}));
  traces.push({...base, x: p.t, y: toUnit(p.b), name: seriesNames[0], legend: lg, line: {color: '#6e6e6e', width: p.w}});
  traces.push({...base, x: p.t, y: toUnit(p.a), name: seriesNames[1], legend: lg, line: {color: '#ff4040', width: p.w}});
  const L = colLeft[p.col], T = rowTop[p.row];
  layout['xaxis' + sfx] = {
    domain: [L / W, (L + colWidth) / W], range: [0, 360], anchor: ya, fixedrange: true,
    showgrid: false, zeroline: false, showline: true, linecolor: '#000', linewidth: 2.6,
    ticks: 'outside', ticklen: 14, tickwidth: 2.6, tickcolor: '#000', tickmode: 'array', tickvals: xTicks, ticktext: xTicks.map(String),
    tickfont: {family: FONT, size: 50, color: '#000'}, ticklabelstandoff: -8,
    minor: {ticks: 'outside', ticklen: 8, tickwidth: 2.6, tickcolor: '#000', tickmode: 'array', tickvals: xMinor, showgrid: false},
    title: {text: titleX, font: {family: FONT, size: 50, color: '#000'}, standoff: 15}};
  layout['yaxis' + sfx] = {
    domain: [1 - (T + rowHeight) / H, 1 - T / H], range: [-0.06, 0.06], anchor: xa, fixedrange: true,
    showgrid: false, zeroline: false, showline: true, linecolor: '#000', linewidth: 2.6,
    ticks: 'outside', ticklen: 14, tickwidth: 2.6, tickcolor: '#000', tickmode: 'array', tickvals: yTicks, ticktext: yTickText,
    tickfont: {family: FONT, size: 51, color: '#000'}, ticklabelstandoff: -2,
    minor: {ticks: 'outside', ticklen: 8, tickwidth: 2.6, tickcolor: '#000', tickmode: 'array', tickvals: yMinor, showgrid: false},
    title: {text: p.y, font: {family: FONT, size: 53, color: '#000'}, standoff: 6}};
  layout[lg] = {
    x: (L + 28) / W, xanchor: 'left', y: 1 - (T - 10) / H, yanchor: 'top', bgcolor: 'rgba(0,0,0,0)',
    borderwidth: 0, itemwidth: 122, font: {family: FONT, size: 49, color: '#000'}, itemclick: false, itemdoubleclick: false};
});
const captionCenter = [606, 1810, 3013];
captions.forEach((c, i) => layout.annotations.push({
  text: c, x: captionCenter[i] / W, y: 1 - 1950 / H, xref: 'paper', yref: 'paper', xanchor: 'center', yanchor: 'middle',
  showarrow: false, font: {family: FONT, size: 85, color: '#000'}}));

Plotly.newPlot('chart', traces, layout, {staticPlot: true, displayModeBar: false});
</script></body></html>
